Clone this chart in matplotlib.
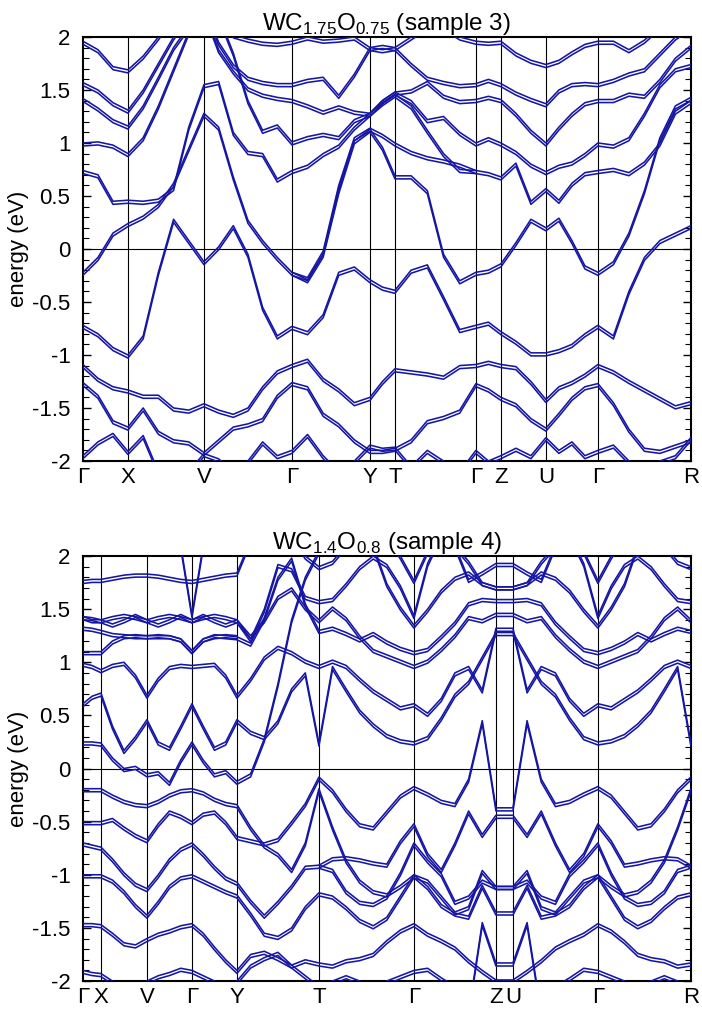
import numpy as np
import matplotlib
matplotlib.use('Agg')
import matplotlib.pyplot as plt
from matplotlib import patheffects as pe

plt.rcParams['font.family'] = ['Liberation Sans', 'DejaVu Sans']
plt.rcParams['mathtext.fontset'] = 'custom'
plt.rcParams['mathtext.rm'] = 'Liberation Sans'

nan = np.nan
BAND_COLOR = '#1616a4'

# ---------------- top panel (sample 3) ----------------
top_labels = ['Γ', 'X', 'V', 'Γ', 'Y', 'T', 'Γ', 'Z', 'U', 'Γ', 'R']
top_kpts = [0, 45, 121, 209, 287, 312, 393, 418, 463, 515, 608]
top_ndiv = [3, 5, 6, 5, 2, 5, 2, 3, 4, 6]

top_bA = [-0.72, -0.80, -0.93, -1.00, -0.82, -0.22, 0.28, 0.08, -0.12, 0.02, 0.22, -0.05, -0.55, -0.82,
          -0.73, -0.78, -0.62, -0.22, -0.17, -0.29, -0.36, -0.39, -0.20, -0.15, -0.45, -0.76, -0.72, -0.69,
          -0.78, -0.87, -0.98, -0.98, -0.95, -0.90, -0.80, -0.72, -0.82, -0.40, -0.08, 0.08, 0.15, 0.22]
top_bB = [-0.22, -0.08, 0.15, 0.24, 0.31, 0.42, 0.62, 0.95, 1.28, 1.15, 0.68, 0.27, 0.08, -0.08,
          -0.22, -0.29, -0.05, 0.55, 1.02, 1.13, 0.96, 0.69, 0.69, 0.55, -0.05, -0.30, -0.22, -0.20,
          -0.14, 0.06, 0.28, 0.20, 0.29, 0.08, -0.16, -0.22, -0.12, 0.15, 0.55, 1.05, 1.35, 1.43]
top_bC = [nan, nan, nan, nan, nan, nan, nan, nan, nan, nan, nan, nan, nan, nan,
          -0.22, -0.27, -0.02, 0.60, 1.05, 1.14, 1.08, 1.00, 0.92, 0.87, 0.84, 0.80, 0.74, nan,
          nan, nan, nan, nan, nan, nan, nan, nan, nan, nan, nan, nan, nan, nan]
top_bD = [-1.09, -1.22, -1.30, -1.33, -1.38, -1.38, -1.50, -1.52, -1.46, -1.52, -1.56, -1.50, -1.30, -1.15,
          -1.09, -1.04, -1.22, -1.32, -1.45, -1.40, -1.25, -1.13, -1.15, -1.17, -1.20, -1.10, -1.09, -1.06,
          -1.09, -1.11, -1.25, -1.42, -1.30, -1.25, -1.18, -1.09, -1.15, -1.24, -1.32, -1.40, -1.48, -1.44]
top_bE = [-1.26, -1.38, -1.62, -1.68, -1.50, -1.72, -1.80, -1.82, -1.92, -1.80, -1.68, -1.65, -1.60, -1.38,
          -1.26, -1.30, -1.55, -1.65, -1.80, -1.90, -1.90, -1.88, -1.80, -1.62, -1.58, -1.52, -1.27, -1.32,
          -1.40, -1.46, -1.60, -1.69, -1.55, -1.40, -1.30, -1.27, -1.45, -1.70, -1.88, -1.90, -1.85, -1.80]
top_bF = [-1.95, -1.82, -1.74, -1.91, -1.76, -2.10, -2.20, -2.10, -1.93, -1.98, -2.10, -2.00, -1.82, -1.95,
          -1.90, -1.75, -1.95, -2.10, -2.00, -1.85, -1.88, -1.87, -2.05, -1.90, -2.00, -2.10, -1.90, -2.00,
          -1.95, -1.88, -1.95, -1.78, -1.90, -1.82, -1.95, -1.90, -1.85, -2.00, -2.10, -2.00, -1.95, -1.78]
top_bU1 = [1.96, 1.88, 1.72, 1.69, 1.82, 2.00, 2.20, 2.30, 2.40, 2.30, 2.02, 1.98, 1.95, 1.94,
           1.96, 2.00, 1.97, 1.98, 2.00, 1.90, 1.88, 1.90, 2.00, 2.10, 2.10, 2.00, 1.96, 1.95,
           1.96, 1.85, 1.78, 1.74, 1.78, 1.86, 1.93, 1.96, 1.96, 1.88, 1.97, 2.10, 2.20, 2.30]
top_bU2 = [1.57, 1.50, 1.38, 1.31, 1.50, 1.75, 2.00, 2.20, 2.30, 1.95, 1.74, 1.62, 1.58, 1.56,
           1.56, 1.60, 1.62, 1.45, 1.65, 1.90, 1.92, 1.90, 1.75, 1.62, 1.58, 1.55, 1.56, 1.60,
           1.56, 1.48, 1.42, 1.37, 1.50, 1.56, 1.57, 1.56, 1.60, 1.66, 1.70, 1.85, 2.00, 2.10]
top_bU3 = [1.42, 1.33, 1.22, 1.16, 1.35, 1.62, 1.90, 2.10, 2.25, 1.88, 1.68, 1.52, 1.46, 1.43,
           1.41, 1.36, 1.30, 1.35, 1.30, 1.28, 1.40, 1.48, 1.50, 1.58, 1.45, 1.40, 1.41, 1.44,
           1.41, 1.28, 1.12, 1.00, 1.15, 1.28, 1.38, 1.41, 1.41, 1.47, 1.45, 1.60, 1.80, 1.92]
top_bU4 = [1.00, 1.01, 0.98, 0.90, 1.05, 1.35, 1.70, 2.05, 2.30, 2.20, 1.85, 1.40, 1.12, 1.17,
           1.01, 1.06, 1.09, 1.06, 1.22, 1.28, 1.40, 1.48, 1.40, 1.22, 1.25, 1.10, 1.00, 1.05,
           1.00, 0.92, 0.80, 0.73, 0.79, 0.82, 0.90, 1.00, 0.98, 1.05, 1.28, 1.55, 1.70, 1.74]
top_bU5 = [0.74, 0.70, 0.45, 0.46, 0.45, 0.47, 0.58, 1.15, 1.55, 1.58, 1.10, 0.92, 0.90, 0.66,
           0.74, 0.79, 0.90, 0.98, 1.15, 1.28, 1.38, 1.46, 1.35, 1.12, 0.90, 0.75, 0.74, 0.72,
           0.68, 0.81, 0.45, 0.57, 0.46, 0.62, 0.72, 0.74, 0.76, 0.72, 0.82, 1.00, 1.30, 1.40]

# ---------------- bottom panel (sample 4) ----------------
bot_labels = ['Γ', 'X', 'V', 'Γ', 'Y', 'T', 'Γ', 'Z', 'U', 'Γ', 'R']
bot_kpts = [0, 18, 64, 109, 154, 236, 331, 413, 430, 515, 608]
bot_ndiv = [2, 4, 4, 4, 6, 7, 6, 1, 6, 7]

bot_bS1 = [1.77, 1.78, 1.78, 1.80, 1.82, 1.83, 1.83, 1.82, 1.80, 1.78, 1.77, 1.79, 1.81, 1.83, 1.84,
           2.15, 2.30, 2.30, 2.20, 2.00, 1.90,
           1.95, 2.10, 2.20, 2.20, 2.20, 2.00, 1.77,
           2.05, 2.20, 2.10, 1.78, 1.85, 1.93,
           1.93, 1.85, 1.78, 2.10, 2.20, 2.05, 1.77,
           2.00, 2.20, 2.20, 2.20, 2.10, 1.95, 1.90]
bot_bS2 = [1.43, 1.42, 1.40, 1.43, 1.45, 1.43, 1.40, 1.43, 1.45, 1.43, 1.40, 1.43, 1.45, 1.43, 1.40,
           1.22, 1.50, 1.92, 1.88, 1.62, 1.58,
           1.60, 1.74, 1.90, 2.00, 1.92, 1.72, 1.44,
           1.93, 2.20, 2.10, 1.95, 1.75, 1.71,
           1.71, 1.75, 1.95, 2.10, 2.20, 1.93, 1.44,
           1.72, 1.92, 2.00, 1.90, 1.74, 1.60, 1.58]
bot_bS3 = [1.43, 1.40, 1.40, 1.36, 1.40, 1.45, 1.40, 1.36, 1.40, 1.45, 1.40, 1.45, 1.40, 1.36, 1.40,
           1.25, 1.40, 1.62, 1.70, 1.52, 1.40,
           1.52, 1.42, 1.25, 1.12, 1.07, 1.02, 0.97,
           1.02, 1.13, 1.26, 1.43, 1.40, 1.46,
           1.46, 1.40, 1.43, 1.26, 1.13, 1.02, 0.97,
           1.02, 1.07, 1.12, 1.25, 1.42, 1.52, 1.40]
bot_bS4 = [1.33, 1.32, 1.30, 1.27, 1.26, 1.25, 1.25, 1.25, 1.25, 1.22, 1.11, 1.22, 1.26, 1.25, 1.24,
           1.18, 1.42, 1.80, 1.98, 1.55, 1.30,
           1.33, 1.28, 1.22, 1.28, 1.20, 1.14, 1.10,
           1.13, 1.25, 1.38, 1.56, 1.60, 1.59,
           1.59, 1.60, 1.56, 1.38, 1.25, 1.13, 1.10,
           1.14, 1.20, 1.28, 1.22, 1.28, 1.33, 1.30]
bot_bS5 = [1.10, 1.10, 1.10, 1.20, 1.25, 1.26, 1.25, 1.26, 1.25, 1.22, 1.11, 1.22, 1.25, 1.26, 1.25,
           nan, nan, nan, nan, nan, nan, nan, nan, nan, nan, nan, nan, nan,
           nan, nan, nan, nan, nan, nan, nan, nan, nan, nan, nan, nan, nan,
           nan, nan, nan, nan, nan, nan, nan]
bot_bS6 = [0.99, 0.97, 0.93, 0.98, 1.00, 0.88, 0.69, 0.85, 0.96, 0.98, 0.97, 0.98, 0.99, 0.88, 0.69,
           0.85, 1.05, 1.15, 1.10, 1.02, 0.97,
           1.02, 0.97, 0.85, 0.74, 0.66, 0.58, 0.61,
           0.52, 0.66, 0.90, 0.96, 0.74, 1.32,
           1.32, 0.74, 0.96, 0.90, 0.66, 0.52, 0.61,
           0.58, 0.66, 0.74, 0.85, 0.97, 1.02, 0.97]
bot_bS7 = [0.61, 0.68, 0.71, 0.40, 0.17, 0.30, 0.46, 0.25, 0.20, 0.40, 0.61, 0.40, 0.20, 0.25, 0.46,
           0.35, 0.30, 0.45, 0.75, 0.90, 0.24,
           0.96, 0.75, 0.55, 0.42, 0.32, 0.27, 0.25,
           0.30, 0.48, 0.70, 0.82, 1.05, 1.28,
           1.28, 1.05, 0.82, 0.70, 0.48, 0.30, 0.25,
           0.27, 0.32, 0.42, 0.55, 0.75, 0.96, 0.24]
bot_bS8 = [0.25, 0.25, 0.24, 0.10, 0.00, 0.02, -0.05, -0.03, -0.13, 0.08, 0.25, 0.08, -0.05, -0.02, -0.12,
           -0.05, 0.28, 0.80, 1.40, 1.80, 2.05,
           2.20, 2.30, 2.25, 2.10, 1.74, 1.52, 1.35,
           1.50, 1.68, 1.80, 1.85, 1.75, 1.71,
           1.71, 1.75, 1.85, 1.80, 1.68, 1.50, 1.35,
           1.52, 1.74, 2.10, 2.25, 2.30, 2.20, 2.05]
bot_bV1 = [nan, nan, nan, nan, nan, nan, nan, nan, nan, 2.10, 1.45, 2.10, nan, nan, nan,
           nan, nan, nan, nan, nan, nan, nan, nan, nan, nan, nan, nan, nan,
           nan, nan, nan, nan, nan, nan, nan, nan, nan, nan, nan, nan, nan,
           nan, nan, nan, nan, nan, nan, nan]
bot_bL1 = [-0.19, -0.19, -0.19, -0.25, -0.30, -0.33, -0.34, -0.30, -0.24, -0.20, -0.19, -0.22, -0.28, -0.32, -0.34,
           -0.55, -0.72, -0.80, -0.95, -0.70, -0.19,
           -0.55, -0.86, -1.05, -1.15, -1.18, -1.10, -1.00,
           -1.05, -1.20, -1.35, -1.30, -0.96, -1.11,
           -1.11, -0.96, -1.30, -1.35, -1.20, -1.05, -1.00,
           -1.10, -1.18, -1.15, -1.05, -0.86, -0.55, -0.19]
bot_bL2 = [-0.50, -0.50, -0.50, -0.47, -0.55, -0.62, -0.67, -0.52, -0.40, -0.44, -0.50, -0.42, -0.40, -0.50, -0.64,
           -0.67, -0.70, -0.66, -0.50, -0.33, -0.08,
           -0.20, -0.38, -0.52, -0.55, -0.40, -0.25, -0.17,
           -0.23, -0.30, -0.33, -0.10, 0.45, -0.37,
           -0.37, 0.45, -0.10, -0.33, -0.30, -0.23, -0.17,
           -0.25, -0.40, -0.55, -0.52, -0.38, -0.20, -0.08]
bot_bL3 = [-0.70, -0.72, -0.74, -0.85, -0.98, -1.08, -1.13, -1.00, -0.85, -0.75, -0.70, -0.80, -0.92, -1.02, -1.07,
           -1.24, -1.38, -1.25, -1.10, -0.92, -0.91,
           -0.84, -0.83, -0.85, -0.88, -0.90, -0.68, -0.52,
           -0.80, -0.95, -0.70, -0.40, -0.62, -0.44,
           -0.44, -0.62, -0.40, -0.70, -0.95, -0.80, -0.52,
           -0.68, -0.90, -0.88, -0.85, -0.83, -0.84, -0.91]
bot_bL4 = [-1.00, -1.00, -1.00, -1.05, -1.15, -1.28, -1.38, -1.25, -1.10, -1.02, -1.00, -1.05, -1.10, -1.15, -1.19,
           -1.36, -1.55, -1.58, -1.50, -1.30, -1.17,
           -1.20, -1.30, -1.42, -1.48, -1.40, -1.20, -1.00,
           -1.11, -1.28, -1.36, -1.39, -1.10, -1.35,
           -1.35, -1.10, -1.39, -1.36, -1.28, -1.11, -1.00,
           -1.20, -1.40, -1.48, -1.42, -1.30, -1.20, -1.17]
bot_bL5 = [nan, nan, nan, nan, nan, nan, nan, nan, nan, nan, nan, nan, nan, nan, nan,
           nan, nan, nan, nan, nan, -0.91,
           -0.95, -1.15, -1.25, -1.27, -1.20, -0.98, -0.70,
           -0.86, -0.99, -1.25, -1.20, -1.05, -1.11,
           -1.11, -1.05, -1.20, -1.25, -0.99, -0.86, -0.70,
           -0.98, -1.20, -1.27, -1.25, -1.15, -0.95, -0.91]
bot_bL6 = [-1.46, -1.46, -1.47, -1.55, -1.64, -1.66, -1.60, -1.55, -1.52, -1.48, -1.46, -1.55, -1.68, -1.80, -1.90,
           -1.75, -1.72, -1.78, -1.85, -1.80, -1.83,
           -1.85, -1.80, -1.78, -1.74, -1.62, -1.52, -1.46,
           -1.55, -1.61, -1.68, -1.80, -1.90, -1.99,
           -1.99, -1.90, -1.80, -1.68, -1.61, -1.55, -1.46,
           -1.52, -1.62, -1.74, -1.78, -1.80, -1.85, -1.83]
bot_bL7 = [-1.90, -1.92, -1.93, -2.00, -2.10, -2.10, -2.00, -1.95, -1.92, -1.88, -1.90, -1.95, -2.00, -2.05, -2.00,
           -1.85, -1.78, -1.73, -1.85, -1.95, -2.05,
           -2.00, -1.95, -2.00, -2.05, -2.00, -1.95, -1.90,
           -1.88, -1.97, -2.05, -2.30, -1.45, -1.83,
           -1.83, -1.45, -2.30, -2.05, -1.97, -1.88, -1.90,
           -1.95, -2.00, -2.05, -2.00, -1.95, -2.00, -2.05]

top_bands = [top_bA, top_bB, top_bC, top_bD, top_bE, top_bF,
             top_bU1, top_bU2, top_bU3, top_bU4, top_bU5]
bot_bands = [bot_bS1, bot_bS2, bot_bS3, bot_bS4, bot_bS5, bot_bS6, bot_bS7, bot_bS8, bot_bV1,
             bot_bL1, bot_bL2, bot_bL3, bot_bL4, bot_bL5, bot_bL6, bot_bL7]


def kgrid(kpts, ndiv):
    pts = [kpts[0]]
    for i, n in enumerate(ndiv):
        pts.extend(np.linspace(kpts[i], kpts[i + 1], n + 1)[1:])
    return np.array(pts)


def draw_panel(ax, kpts, ndiv, labels, bands, title):
    k = kgrid(kpts, ndiv)
    for b in bands:
        ax.plot(k, np.array(b, dtype=float), color=BAND_COLOR, lw=1.15,
                solid_joinstyle='round', solid_capstyle='round',
                path_effects=[pe.SimpleLineShadow(offset=(0, -2.2), shadow_color=BAND_COLOR, alpha=1.0),
                              pe.Normal()], zorder=3)
    for kp in kpts[1:-1]:
        ax.axvline(kp, color='black', lw=0.8, zorder=2)
    ax.axhline(0, color='black', lw=0.8, zorder=2)
    ax.set_xlim(kpts[0], kpts[-1])
    ax.set_ylim(-2, 2)
    ax.set_xticks(kpts)
    ax.set_xticklabels(labels, fontsize=16)
    ax.tick_params(axis='x', length=0, pad=4)
    ax.set_yticks(np.arange(-2, 2.01, 0.5))
    ax.set_yticklabels(['-2', '-1.5', '-1', '-0.5', '0', '0.5', '1', '1.5', '2'], fontsize=16)
    ax.set_yticks(np.arange(-2, 2.01, 0.1), minor=True)
    ax.tick_params(axis='y', which='major', direction='in', length=6, width=1,
                   left=True, right=True, pad=9)
    ax.tick_params(axis='y', which='minor', direction='in', length=4, width=0.8, left=True, right=True)
    for s in ax.spines.values():
        s.set_linewidth(1.5)
    ax.set_ylabel('energy (eV)', fontsize=16, labelpad=2)
    ax.set_title(title, fontsize=17.5, pad=2)


fig = plt.figure(figsize=(7.02, 10.10), dpi=100)
ax1 = fig.add_axes([0.1182, 0.5436, 0.866, 0.4198])
ax2 = fig.add_axes([0.1182, 0.0287, 0.866, 0.4208])
draw_panel(ax1, top_kpts, top_ndiv, top_labels, top_bands,
           r'WC$_{\mathregular{1.75}}$O$_{\mathregular{0.75}}$ (sample 3)')
draw_panel(ax2, bot_kpts, bot_ndiv, bot_labels, bot_bands,
           r'WC$_{\mathregular{1.4}}$O$_{\mathregular{0.8}}$ (sample 4)')
fig.savefig('out.png', dpi=100)
